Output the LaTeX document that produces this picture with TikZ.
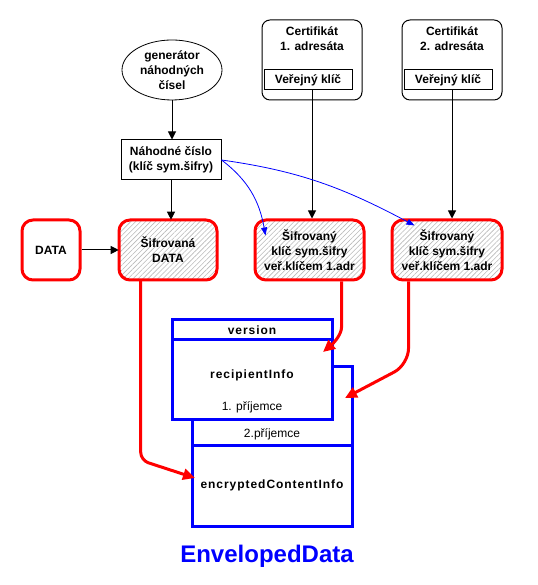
\documentclass[tikz,border=0pt]{standalone}
\usepackage{fontspec}
\setmainfont{Liberation Sans}
\usepackage{tikz}
\usetikzlibrary{positioning, calc, arrows.meta, shapes.geometric, patterns.meta}
\newcommand{\diagfont}{\bfseries\fontsize{12}{15}\selectfont}
\newcommand{\diagplain}{\mdseries\fontsize{12}{15}\selectfont}
\newcommand{\diagwide}{\bfseries\fontsize{12}{15}\selectfont\addfontfeature{LetterSpace=8}}

\begin{document}
\begin{tikzpicture}[
    x=1pt, y=1pt,
    box/.style={rectangle, draw, line width=1pt, minimum width=100pt, minimum height=40pt, align=center, inner sep=2pt, font=\diagfont},
    gen_box/.style={ellipse, draw, line width=0.8pt, minimum width=100pt, minimum height=60pt, inner sep=0pt, align=center, font=\diagfont},
    cert_box/.style={rectangle, draw, line width=1pt, rounded corners=8pt, minimum width=100pt, minimum height=80pt},
    key_box/.style={rectangle, draw, line width=1pt, minimum width=88pt, minimum height=20pt, inner sep=1pt, font=\diagfont},
    red_box/.style={rectangle, draw=red, line width=3pt, rounded corners=11pt, minimum height=60pt, align=center, font=\diagfont},
    crypt_box/.style={red_box, pattern={Lines[angle=45, distance=3.5pt, line width=0.6pt]}, pattern color=gray!55},
    env_box/.style={rectangle, draw=blue, line width=3pt, fill=white, minimum width=160pt, outer sep=0pt},
    label_style/.style={font=\diagfont, align=center, inner sep=1pt, text=black},
    env_label/.style={label_style, font=\diagwide},
    flow_arrow/.style={-{Triangle[length=8pt, width=8pt]}, line width=1pt},
    key_arrow/.style={-{Triangle[length=8pt, width=6pt]}, blue, line width=0.8pt},
    pack_arrow/.style={-{Triangle[length=12pt, width=11pt]}, red, line width=3pt, rounded corners=8pt}
]
    \useasboundingbox (0,0) rectangle (537,585);

    % Uzly
    \node[gen_box] (gen) at (172,515) {generátor\\náhodných\\čísel};
    \node[box] (nc) at (171,425) {Náhodné číslo\\(klíč sym.šifry)};

    \node[cert_box] (c1) at (312,525) {};
    \node[label_style, below=6pt of c1.north] (c1t) {Certifikát\\1. adresáta};
    \node[key_box] (vk1) at (308,505) {Veřejný klíč};
    \node[cert_box] (c2) at (452,525) {};
    \node[label_style, below=6pt of c2.north] (c2t) {Certifikát\\2. adresáta};
    \node[key_box] (vk2) at (448,505) {Veřejný klíč};

    \node[red_box, minimum width=58pt] (data) at (51,335) {DATA};
    \node[crypt_box, minimum width=98pt] (sd) at (168,335) {Šifrovaná\\DATA};
    \node[crypt_box, minimum width=109pt] (k1) at (309.5,335) {Šifrovaný\\klíč sym.šifry\\veř.klíčem 1.adr};
    \node[crypt_box, minimum width=110pt] (k2) at (447,335) {Šifrovaný\\klíč sym.šifry\\veř.klíčem 1.adr};

    % EnvelopedData
    \node[env_box, minimum height=160pt] (env) at (272,138) {};
    \draw[blue, line width=3pt] ([yshift=1pt]env.west) -- ([yshift=1pt]env.east);
    \node[label_style, font=\diagplain] (p2) at (272,151) {2.příjemce};
    \node[env_label] (eci) at (272,100) {encryptedContentInfo};
    \node[env_box, minimum height=100pt] (ri) at (252,215) {};
    \draw[blue, line width=3pt] ([yshift=-20pt]ri.north west) -- ([yshift=-20pt]ri.north east);
    \node[env_label] (ver) at (252,255) {version};
    \node[env_label] (rinfo) at (252,210) {recipientInfo};
    \node[label_style, font=\diagplain] (p1) at (252,178) {1. příjemce};
    \node[font=\bfseries\fontsize{24}{28}\selectfont, text=blue] (title) at (267,29) {EnvelopedData};

    \coordinate (eci_in) at (195,107);
    \coordinate (ri_in) at (323,233);
    \coordinate (env_in) at (345,187);

    % Černé šipky
    \draw[flow_arrow] (gen) -- (gen |- nc.north);
    \draw[flow_arrow] (nc) -- (nc |- sd.north);
    \draw[flow_arrow] (c1 |- vk1.south) -- (c1 |- k1.north);
    \draw[flow_arrow] (c2 |- vk2.south) -- (c2 |- k2.north);
    \draw[flow_arrow] (data) -- (sd);

    % Klíč
    \draw[key_arrow] (nc.east) to[out=-37, in=100] ([shift={(12,-17)}]k1.north west);
    \draw[key_arrow] (nc.east) to[out=-8, in=152] ([shift={(24,-7)}]k2.north west);

    % Červené šipky
    \draw[pack_arrow] ([xshift=22pt]sd.south west) -- ++(0,-180) -- (eci_in);
    \draw[pack_arrow] ([xshift=-24pt]k1.south east) -- ++(0,-38) to[out=-90, in=40] (ri_in);
    \draw[pack_arrow, rounded corners=16pt] ([xshift=18pt]k2.south west) -- ++(0,-83) -- (env_in);
\end{tikzpicture}
\end{document}
